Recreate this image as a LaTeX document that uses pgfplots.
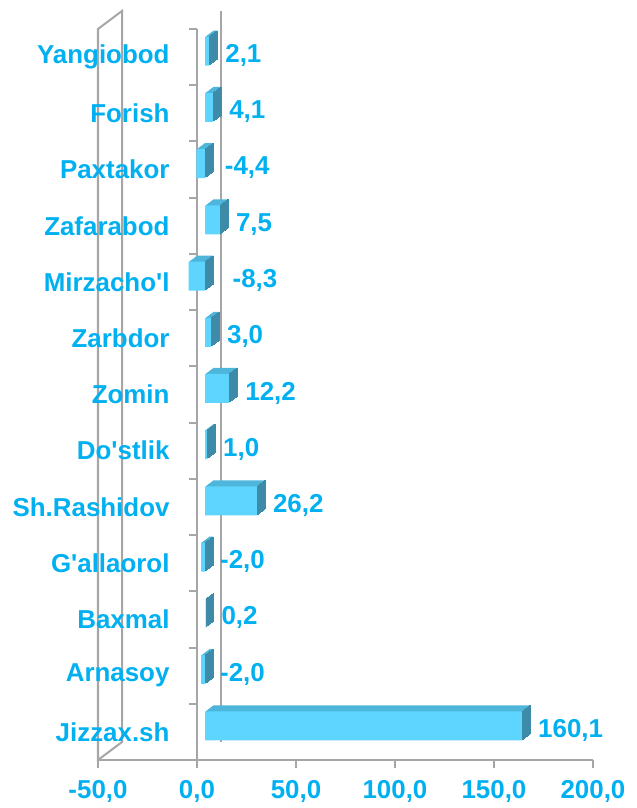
\documentclass[border=0pt]{standalone}
\usepackage{pgfplots}
\pgfplotsset{compat=1.18}
\usepackage{pgfplotstable}
\usepackage{fontspec}
\setmainfont{Liberation Sans}
\definecolor{lab}{HTML}{00B0F0}
\definecolor{agray}{HTML}{A6A6A6}
\definecolor{bfront}{HTML}{5DD5FE}
\definecolor{btop}{HTML}{4EB6DB}
\definecolor{bside}{HTML}{3D8BA9}
\newcommand\lf{\fontsize{26}{30}\selectfont\bfseries}

% idx: category (0 = bottom), v: value, r: right end of bar, a: label position
\pgfplotstableread{
idx v r a
0 160.1 160.1 160.1
1 -2.0 0 -0.5
2 0.2 0.2 0.2
3 -2.0 0 -0.5
4 26.2 26.2 26.2
5 1.0 1.0 1.0
6 12.2 12.2 12.2
7 3.0 3.0 3.0
8 -8.3 0 5.8
9 7.5 7.5 7.5
10 -4.4 0 1.9
11 4.1 4.1 4.1
12 2.1 2.1 2.1
}\data

\begin{document}
\begin{tikzpicture}
\begin{axis}[
  set layers=standard,
  scale only axis, width=495bp, height=731bp,
  xmin=-50, xmax=200, ymin=-0.5, ymax=12.5,
  axis x line=bottom, axis y line=middle,
  axis line style={agray, line width=2bp, -},
  xtick={-50,0,...,200},
  ytick={0,...,12},
  yticklabels={Jizzax.sh,Arnasoy,Baxmal,G\textquotesingle allaorol,Sh.Rashidov,Do\textquotesingle stlik,Zomin,Zarbdor,Mirzacho\textquotesingle l,Zafarabod,Paxtakor,Forish,Yangiobod},
  minor ytick={-0.5,0.5,...,12.5},
  tick style={agray, line width=2bp},
  major y tick style={draw=none},
  tick align=outside,
  major tick length=8bp, minor tick length=8bp,
  xticklabel style={font=\lf, text=lab, inner sep=1bp, yshift=-11bp},
  yticklabel style={font=\lf, text=lab, xshift=-16bp},
  /pgf/number format/.cd, fixed, fixed zerofill, precision=1, use comma, assume math mode=true,
  /pgfplots/.cd,
  clip=false,
]
\begin{pgfonlayer}{axis background}
\draw[agray, line width=2bp] (axis cs:-50,-0.5) -- (axis cs:-50,12.5) -- ([shift={(24bp,18bp)}]axis cs:-50,12.5) -- ([shift={(24bp,18bp)}]axis cs:-50,-0.5) -- cycle;
\draw[agray, line width=2bp] ([shift={(24bp,18bp)}]axis cs:0,-0.5) -- ([shift={(24bp,18bp)}]axis cs:0,12.5);
\end{pgfonlayer}

\pgfplotsinvokeforeach{1,...,8}{
  \addplot[xbar, bar width=29bp, bar shift=0pt, fill=btop, draw=none, xshift=8bp+#1bp, yshift=6bp+0.75*#1bp] table[x=v,y=idx]{\data};
}
\pgfplotsinvokeforeach{1,...,8}{
  \addplot[only marks, mark=|, mark size=14.5bp, mark options={draw=bside, line width=1.6bp}, xshift=8bp+#1bp, yshift=6bp+0.75*#1bp] table[x=r,y=idx]{\data};
}
\addplot[xbar, bar width=29bp, bar shift=0pt, fill=bfront, draw=none, xshift=8bp, yshift=6bp] table[x=v,y=idx]{\data};

\addplot[draw=none, mark=none, point meta=explicit,
  nodes near coords={\pgfmathprintnumber{\pgfplotspointmeta}},
  nodes near coords align={anchor=west},
  every node near coord/.append style={anchor=west, inner sep=0pt, xshift=24bp, yshift=1.5bp, font=\lf, text=lab}]
  table[x=a,y=idx,meta=v]{\data};
\end{axis}
\pgfresetboundingbox
\path[use as bounding box] (-98bp,-48bp) rectangle (539bp,760bp);
\end{tikzpicture}
\end{document}
